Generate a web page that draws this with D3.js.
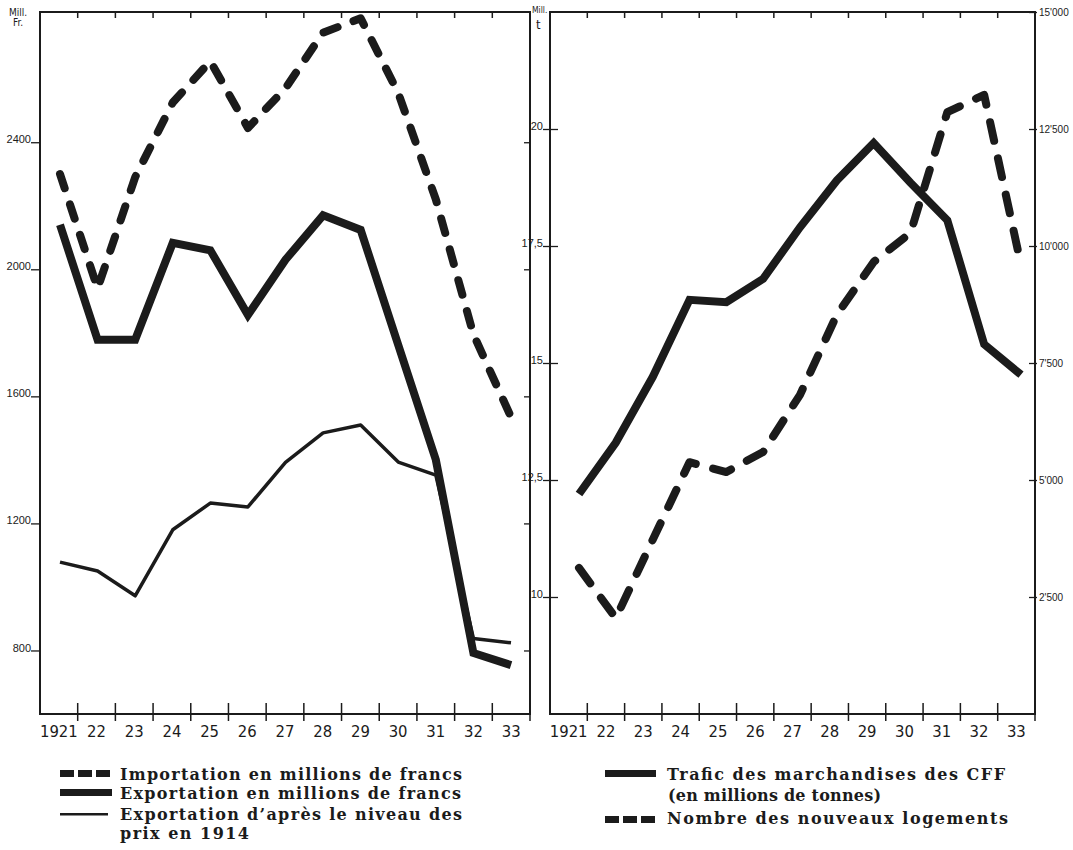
<!DOCTYPE html>
<html>
<head>
<meta charset="utf-8">
<script src="https://cdn.jsdelivr.net/npm/d3@7"></script>
<style>
  body { margin: 0; background: #fff; }
</style>
</head>
<body>
<div id="chart"></div>
<script>
// years on the x axis (both panels)
const years = [1921, 1922, 1923, 1924, 1925, 1926, 1927, 1928, 1929, 1930, 1931, 1932, 1933];
const yearLabels = ["1921", "22", "23", "24", "25", "26", "27", "28", "29", "30", "31", "32", "33"];

// left panel, millions of francs
const importation = [2300, 1940, 2290, 2525, 2655, 2445, 2570, 2745, 2790, 2555, 2220, 1795, 1535];
const exportation = [2140, 1778, 1778, 2083, 2060, 1856, 2030, 2170, 2124, 1762, 1400, 792, 754];
const exportation1914 = [1078, 1050, 972, 1180, 1264, 1252, 1392, 1485, 1510, 1393, 1352, 838, 824];

// right panel
const traficCFF = [12.2, 13.3, 14.7, 16.35, 16.3, 16.8, 17.9, 18.9, 19.7, 18.85, 18.05, 15.4, 14.75]; // mill. t
const logements = [3120, 2050, 3720, 5380, 5170, 5600, 6820, 8530, 9660, 10280, 12860, 13230, 9600];

// tick values
const leftTicks = [800, 1200, 1600, 2000, 2400];
const tonnesTicks = [10, 12.5, 15, 17.5, 20];
const logementsTicks = [2500, 5000, 7500, 10000, 12500, 15000];

// legend texts
const legendLeft = ["Importation en millions de francs", "Exportation en millions de francs",
  "Exportation d\u2019apr\u00e8s le niveau des", "prix en 1914"];
const legendRight = ["Trafic des marchandises des CFF", "(en millions de tonnes)", "Nombre des nouveaux logements"];

const width = 1073;
const height = 850;
const ink = "#1b1b1b";
const frameTop = 12;
const frameBottom = 714;

const swiss = d3.formatLocale({ decimal: ",", thousands: "'", grouping: [3], currency: ["", ""] });

const svg = d3.create("svg")
    .attr("width", width)
    .attr("height", height)
    .attr("viewBox", [0, 0, width, height])
    .attr("font-family", "'Liberation Sans Narrow', 'DejaVu Sans Condensed', 'Liberation Sans', sans-serif");

svg.append("rect").attr("width", width).attr("height", height).attr("fill", "#fff");

// scales: band scales for the year grid, point scales for the drawn values
const bandL = d3.scaleBand(years, [40, 530]);
const bandR = d3.scaleBand(years, [550, 1035]);
const xL = d3.scalePoint(years, [60, 511]);
const xR = d3.scalePoint(years, [579, 1021]);
const yL = d3.scaleLinear([600, 2810], [frameBottom, frameTop]);
const yT = d3.scaleLinear([7.5, 22.5], [frameBottom, frameTop]);
const yN = d3.scaleLinear([0, 15000], [frameBottom, frameTop]);

// frame, year ticks and year labels for one panel
function drawFrame(band) {
    const [x0, x1] = band.range();
    const bounds = years.slice(1).map(d => band(d));

    svg.append("rect")
        .attr("x", x0).attr("y", frameTop)
        .attr("width", x1 - x0).attr("height", frameBottom - frameTop)
        .attr("fill", "none")
        .attr("stroke", ink)
        .attr("stroke-width", 2);

    svg.append("g")
        .attr("stroke", ink)
        .attr("stroke-width", 1.5)
        .selectAll("line")
        .data(bounds.concat([x1]))
        .join("line")
        .attr("x1", d => d).attr("x2", d => d)
        .attr("y1", frameBottom - 11).attr("y2", frameBottom + 7);

    svg.append("g")
        .attr("stroke", ink)
        .attr("stroke-width", 1.5)
        .selectAll("line")
        .data(bounds)
        .join("line")
        .attr("x1", d => d).attr("x2", d => d)
        .attr("y1", frameTop).attr("y2", frameTop + 6);

    svg.append("g")
        .attr("font-size", 16.5)
        .attr("fill", ink)
        .attr("text-anchor", "middle")
        .selectAll("text")
        .data(years)
        .join("text")
        .attr("x", d => band(d) + band.bandwidth() / 2)
        .attr("y", frameBottom + 23)
        .text((d, i) => yearLabels[i]);
}

drawFrame(bandL);
drawFrame(bandR);

// y axes
function styleAxis(g, size) {
    g.select(".domain").remove();
    g.selectAll(".tick line").attr("stroke", ink).attr("stroke-width", 1.3);
    g.selectAll(".tick text").attr("fill", ink).attr("font-size", size).attr("font-family", null);
}

svg.append("g")
    .attr("transform", "translate(40,0)")
    .call(d3.axisLeft(yL).tickValues(leftTicks).tickSize(9).tickPadding(0).tickFormat(d3.format("d")))
    .call(g => styleAxis(g, 11))
    .call(g => g.selectAll(".tick text").attr("dy", "0.05em"));

// inner ticks on the right side of the left frame
svg.append("g")
    .attr("transform", "translate(530,0)")
    .call(d3.axisRight(yL).tickValues(leftTicks).tickSize(-6).tickFormat(""))
    .call(g => styleAxis(g, 11));

svg.append("g")
    .attr("transform", "translate(552,0)")
    .call(d3.axisLeft(yT).tickValues(tonnesTicks).tickSize(11).tickPadding(0).tickFormat(swiss.format("")))
    .call(g => styleAxis(g, 11))
    .call(g => g.selectAll(".tick line").attr("x2", 6).attr("x1", -9))
    .call(g => g.selectAll(".tick text").attr("x", -9).attr("dy", "0.05em"));

svg.append("g")
    .attr("transform", "translate(1035,0)")
    .call(d3.axisRight(yN).tickValues(logementsTicks).tickSize(3).tickPadding(1).tickFormat(swiss.format(",")))
    .call(g => styleAxis(g, 10))
    .call(g => g.selectAll(".tick line").attr("x1", -6).attr("x2", 2));

// unit labels
svg.append("g")
    .attr("fill", ink)
    .selectAll("text")
    .data([[9, 16, 10, "Mill."], [13, 26, 10, "Fr."], [532, 13, 8.5, "Mill."], [536, 29, 13, "t"]])
    .join("text")
    .attr("x", d => d[0]).attr("y", d => d[1])
    .attr("font-size", d => d[2])
    .text(d => d[3]);

// series
const lineL = d3.line().x((d, i) => xL(years[i])).y(d => yL(d));
const lineT = d3.line().x((d, i) => xR(years[i])).y(d => yT(d));
const lineN = d3.line().x((d, i) => xR(years[i])).y(d => yN(d));

const g = svg.append("g").attr("fill", "none").attr("stroke", ink);

g.append("path")
    .attr("d", lineL(exportation1914))
    .attr("stroke-width", 3.5)
    .attr("stroke-linejoin", "round");

g.append("path")
    .attr("d", lineL(exportation))
    .attr("stroke-width", 8)
    .attr("stroke-linejoin", "miter");

g.append("path")
    .attr("d", lineL(importation))
    .attr("stroke-width", 8)
    .attr("stroke-linecap", "round")
    .attr("stroke-linejoin", "round")
    .attr("stroke-dasharray", "15,17");

g.append("path")
    .attr("d", lineT(traficCFF))
    .attr("stroke-width", 8)
    .attr("stroke-linejoin", "miter");

g.append("path")
    .attr("d", lineN(logements))
    .attr("stroke-width", 8)
    .attr("stroke-linecap", "round")
    .attr("stroke-linejoin", "round")
    .attr("stroke-dasharray", "19,18");

// legend
const legend = svg.append("g")
    .attr("font-family", "'DejaVu Serif', serif")
    .attr("font-weight", "bold")
    .attr("font-size", 16)
    .attr("fill", ink);

// left legend keys
legend.append("g").selectAll("rect")
    .data([0, 1, 2])
    .join("rect")
    .attr("x", d => 60 + d * 18).attr("y", 770)
    .attr("width", 14).attr("height", 7);
legend.append("rect").attr("x", 60).attr("y", 789).attr("width", 52).attr("height", 7);
legend.append("rect").attr("x", 60).attr("y", 813).attr("width", 48).attr("height", 2.5);

legend.append("g").selectAll("text")
    .data(legendLeft)
    .join("text")
    .attr("x", 120)
    .attr("y", (d, i) => [780, 799, 820, 839][i])
    .attr("textLength", (d, i) => [342, 341, 342, 129][i])
    .attr("lengthAdjust", "spacing")
    .text(d => d);

// right legend keys
legend.append("rect").attr("x", 605).attr("y", 770).attr("width", 51).attr("height", 7);
legend.append("g").selectAll("rect")
    .data([0, 1, 2])
    .join("rect")
    .attr("x", d => 605 + d * 18).attr("y", 816)
    .attr("width", 14).attr("height", 7);

legend.append("g").selectAll("text")
    .data(legendRight)
    .join("text")
    .attr("x", (d, i) => i === 1 ? 668 : 667)
    .attr("y", (d, i) => [780, 801, 824][i])
    .attr("textLength", (d, i) => [338, 213, 341][i])
    .attr("lengthAdjust", "spacing")
    .text(d => d);

document.getElementById("chart").appendChild(svg.node());
</script>
</body>
</html>
